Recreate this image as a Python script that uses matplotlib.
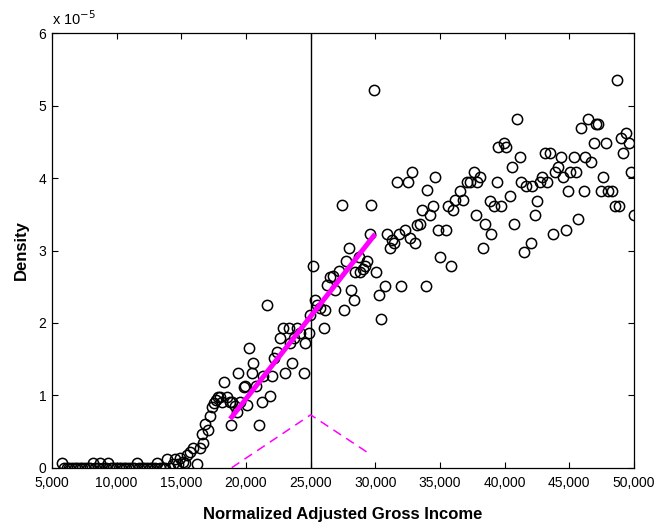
"""
Density of normalized adjusted gross income, with a local linear fit
around the 25,000 cutoff (MATLAB-style figure).
"""
import numpy as np
import matplotlib
matplotlib.use('Agg')
import matplotlib.pyplot as plt
from matplotlib.ticker import FuncFormatter

#### data: density values are stored in units of 1e-5
DENS_SCALE = 1e-5
CUTOFF = 25000

### flat part, bins with zero density
zero_x = [5950, 6150, 6350, 6550, 6750, 6950, 7150, 7350, 7550, 7750, 7950,
          8350, 8550, 8950, 9150, 9550, 9750, 9950, 10150, 10350, 10550,
          10750, 10950, 11150, 11350, 11750, 11950, 12150, 12350, 12550,
          12750, 12950, 13350, 13550, 13750, 14150]

### everything else, (income, density/1e-5)
bin_x = [5750, 8150, 8750, 9350, 11550, 13150,
         13880, 14390, 14520, 14780, 14900, 15160, 15290, 15430, 15680,
         15890, 16200, 16460, 16590, 16710, 16840, 17100, 17230, 17360,
         17490, 17690, 17870, 18000, 18130, 18310, 18520, 18780, 18830,
         18910, 19160, 19290, 19420, 19550, 19810, 19940, 20070, 20270,
         20460, 20580, 20790, 21040, 21230, 21350, 21620, 21820, 22000,
         22130, 22390, 22650, 22900, 23030, 23290, 23420, 23550, 23680,
         23940, 24200, 24450, 24580, 24840, 24970, 25180, 25360, 25490,
         25740, 26000, 26130, 26300, 26520, 26750, 26900, 27160, 27420,
         27600, 27750, 27930, 28120, 28320, 28450, 28700, 28840, 29050,
         29230, 29360, 29560, 29690, 29870, 30080, 30260, 30440, 30770,
         30900, 31100, 31290, 31470, 31680, 31800, 32010, 32320, 32500,
         32650, 32860, 33090, 33230, 33430, 33610, 33900, 34000, 34260,
         34470, 34640, 34820, 35030, 35500, 35630, 35860, 36010, 36190,
         36530, 36780, 37090, 37350, 37660, 37790, 37870, 38070, 38340,
         38510, 38850, 38980, 39160, 39370, 39500, 39730, 39930, 40140,
         40400, 40580, 40760, 40970, 41150, 41300, 41530, 41660, 42000,
         42130, 42330, 42510, 42770, 42920, 43100, 43290, 43540, 43750,
         43930, 44140, 44320, 44500, 44710, 44860, 45090, 45350, 45480,
         45690, 45870, 46120, 46250, 46460, 46640, 46890, 47080, 47230,
         47470, 47620, 47830, 48010, 48270, 48500, 48700, 48860, 48960,
         49170, 49400, 49600, 49740, 50000]
bin_y = [0.06, 0.06, 0.06, 0.06, 0.06, 0.07,
         0.12, 0.05, 0.12, 0.05, 0.13, 0.08, 0.06, 0.18, 0.22,
         0.27, 0.05, 0.27, 0.46, 0.34, 0.60, 0.52, 0.71, 0.84,
         0.89, 0.93, 0.98, 0.98, 0.91, 1.19, 0.98, 0.91, 0.59,
         0.91, 0.85, 0.77, 1.31, 0.91, 1.12, 1.13, 0.87, 1.65,
         1.31, 1.45, 1.13, 0.59, 0.91, 1.26, 2.25, 0.99, 1.26,
         1.51, 1.60, 1.79, 1.93, 1.31, 1.93, 1.72, 1.45, 1.79,
         1.93, 1.86, 1.31, 1.72, 1.86, 2.11, 2.79, 2.32, 2.25,
         2.20, 1.93, 2.18, 2.52, 2.64, 2.65, 2.45, 2.72, 3.63,
         2.18, 2.85, 3.04, 2.45, 2.32, 2.71, 2.91, 2.71, 2.75,
         2.79, 2.86, 3.23, 3.63, 5.22, 2.71, 2.38, 2.05, 2.51,
         3.23, 3.04, 3.14, 3.11, 3.95, 3.23, 2.51, 3.29, 3.95,
         3.17, 4.08, 3.11, 3.35, 3.37, 3.56, 2.51, 3.83, 3.49,
         3.62, 4.02, 3.29, 2.91, 3.29, 3.62, 2.79, 3.56, 3.70,
         3.82, 3.70, 3.95, 3.95, 4.08, 3.49, 3.95, 4.02, 3.04,
         3.36, 3.69, 3.23, 3.62, 3.95, 4.43, 3.62, 4.49, 4.43,
         3.75, 4.16, 3.36, 4.82, 4.29, 3.95, 2.98, 3.89, 3.11,
         3.89, 3.49, 3.69, 3.95, 4.02, 4.35, 3.95, 4.35, 3.23,
         4.08, 4.15, 4.29, 4.02, 3.29, 3.82, 4.08, 4.29, 4.08,
         3.43, 4.69, 3.82, 4.29, 4.82, 4.22, 4.48, 4.75, 4.75,
         3.82, 4.02, 4.48, 3.82, 3.82, 3.62, 5.35, 3.62, 4.56,
         4.35, 4.62, 4.48, 4.08, 3.49]

### local linear fit below the cutoff (thick magenta)
fit_x = [18900, 29870]
fit_y = [0.70, 3.20]

### triangular kernel weights (dashed magenta)
kern_x = [18900, 25000, 29400]
kern_y = [0.0, 0.73, 0.21]

x_ticks = [5000, 10000, 15000, 20000, 25000, 30000, 35000, 40000, 45000, 50000]
y_ticks = [0, 1, 2, 3, 4, 5, 6]

######## figure
plt.rcParams['font.family'] = ['Liberation Sans', 'DejaVu Sans']
fig = plt.figure(figsize=(6.62, 5.29), dpi=100)
ax = fig.add_axes([0.0785, 0.1159, 0.8792, 0.8211])

### vertical cutoff line
ax.axvline(CUTOFF, color='black', lw=1.0, zorder=1)

### scatter of bins
all_x = np.array(zero_x + bin_x, dtype=float)
all_y = np.array([0.0] * len(zero_x) + bin_y) * DENS_SCALE
ax.plot(all_x, all_y, 'o', ls='none', mfc='none', mec='black',
        ms=7.4, mew=1.1, zorder=3)

### fit and kernel
ax.plot(fit_x, np.array(fit_y) * DENS_SCALE, '-', color='#ff00ff',
        lw=3.6, zorder=4)
ax.plot(kern_x, np.array(kern_y) * DENS_SCALE, '--', color='#ff00ff',
        lw=1.1, dashes=(6, 4), zorder=2)

### axes look
ax.set_xlim(5000, 50000)
ax.set_ylim(0, 6 * DENS_SCALE)
ax.set_xticks(x_ticks)
ax.set_yticks(np.array(y_ticks) * DENS_SCALE)
ax.xaxis.set_major_formatter(FuncFormatter(lambda v, p: f'{int(v):,}'))
ax.yaxis.set_major_formatter(
    FuncFormatter(lambda v, p: f'{v / DENS_SCALE:.0f}'))
ax.tick_params(direction='in', length=4, width=0.8, top=True, right=True,
               labelsize=10)
ax.tick_params(axis='x', pad=6)
ax.tick_params(axis='y', pad=4)
for s in ax.spines.values():
    s.set_linewidth(0.9)

ax.set_xlabel('Normalized Adjusted Gross Income', fontsize=12,
              fontweight='bold', labelpad=12)
ax.set_ylabel('Density', fontsize=12, fontweight='bold', labelpad=7)
ax.text(0.0, 1.012, r'x 10$^{-5}$', transform=ax.transAxes, fontsize=10.5,
        ha='left', va='bottom')

fig.savefig('out.png', dpi=100)
